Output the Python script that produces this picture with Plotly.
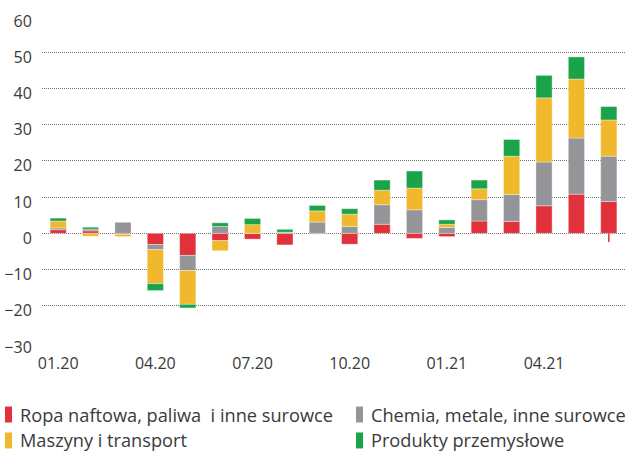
import plotly.graph_objects as go

# Months shown on the category axis
months = ["01.20", "02.20", "03.20", "04.20", "05.20", "06.20", "07.20", "08.20", "09.20",
          "10.20", "11.20", "12.20", "01.21", "02.21", "03.21", "04.21", "05.21", "06.21"]
tick_months = ["01.20", "04.20", "07.20", "10.20", "01.21", "04.21"]

# Contributions by product group (percentage points)
ropa =      [1.0, 0.7, -0.3, -3.1, -6.1, -2.0, -1.6, -3.2, -0.2, -3.0, 2.5, -1.4, -0.9, 3.4, 3.3, 7.6, 10.8, 8.8]
chemia =    [0.5, 0.5, 3.1, -1.4, -4.2, 1.9, 0.0, 0.3, 3.1, 1.9, 5.4, 6.5, 1.6, 5.9, 7.4, 12.1, 15.5, 12.5]
maszyny =   [1.9, -0.8, -0.6, -9.4, -9.3, -2.8, 2.4, 0.0, 3.1, 3.4, 4.0, 6.0, 0.9, 3.0, 10.6, 17.7, 16.3, 10.0]
produkty =  [0.8, 0.5, 0.0, -1.9, -1.0, 1.0, 1.7, 0.8, 1.5, 1.5, 2.8, 4.7, 1.2, 2.4, 4.6, 6.2, 6.1, 3.7]
ropa_06_21_low = -2.4  # thin downward tick on the last bar

series = [
    ("Ropa naftowa, paliwa  i inne surowce", ropa, "#E1313B"),
    ("Chemia, metale, inne surowce", chemia, "#939598"),
    ("Maszyny i transport", maszyny, "#F0B92D"),
    ("Produkty przemysłowe", produkty, "#1BA34A"),
]

fig = go.Figure()
for name, vals, col in series:
    fig.add_trace(go.Bar(
        x=months, y=vals, name=name, marker_color=col,
        marker_line=dict(color="rgba(255,255,255,0.35)", width=1),
        showlegend=False,
    ))

fig.add_trace(go.Scatter(
    x=[months[-1], months[-1]], y=[0, ropa_06_21_low], mode="lines",
    line=dict(color="#E1313B", width=1.5), showlegend=False, hoverinfo="skip",
))

font_family = "'Open Sans', Roboto, sans-serif"

fig.update_layout(
    width=629, height=453,
    margin=dict(l=42, r=4, t=15.5, b=110.7),
    barmode="relative", bargap=0.5,
    plot_bgcolor="white", paper_bgcolor="white",
    font=dict(family=font_family, color="#3a3a3a"),
)

fig.update_xaxes(
    type="category", categoryorder="array", categoryarray=months,
    range=[-0.5, len(months) - 0.5],
    tickmode="array", tickvals=tick_months, ticktext=tick_months,
    showgrid=False, showline=False, zeroline=False,
    ticks="outside", ticklen=7, tickcolor="rgba(0,0,0,0)",
    tickfont=dict(size=16, color="#3a3a3a"),
)
fig.update_yaxes(
    range=[-30, 60], dtick=10, tick0=0,
    showgrid=True, gridcolor="#707070", gridwidth=1, griddash="1px,1px",
    zeroline=False, showline=False,
    ticks="outside", ticklen=6, tickcolor="rgba(0,0,0,0)",
    ticklabelshift=5,
    tickfont=dict(size=16, color="#3a3a3a"),
)

# Legend drawn as narrow colour bars with text beside them
legend_pos = [(5, 415), (356, 415), (5, 441), (356, 441)]
shapes = []
annotations = []
for (name, _, col), (lx, ly) in zip(series, legend_pos):
    shapes.append(dict(
        type="rect", xref="paper", yref="paper",
        x0=(lx - 42) / 583, x1=(lx + 7 - 42) / 583,
        y0=(453 - 110.7 - (ly + 8)) / 326.8, y1=(453 - 110.7 - (ly - 8)) / 326.8,
        fillcolor=col, line=dict(width=0),
    ))
    annotations.append(dict(
        xref="paper", yref="paper",
        x=(lx + 13 - 42) / 583, y=(453 - 110.7 - ly) / 326.8,
        xanchor="left", yanchor="middle", showarrow=False,
        text=name.replace("  ", "&nbsp; "),
        font=dict(size=18.2, color="#3a3a3a", family=font_family),
    ))
fig.update_layout(shapes=shapes, annotations=annotations)

fig.write_html("out.html")
